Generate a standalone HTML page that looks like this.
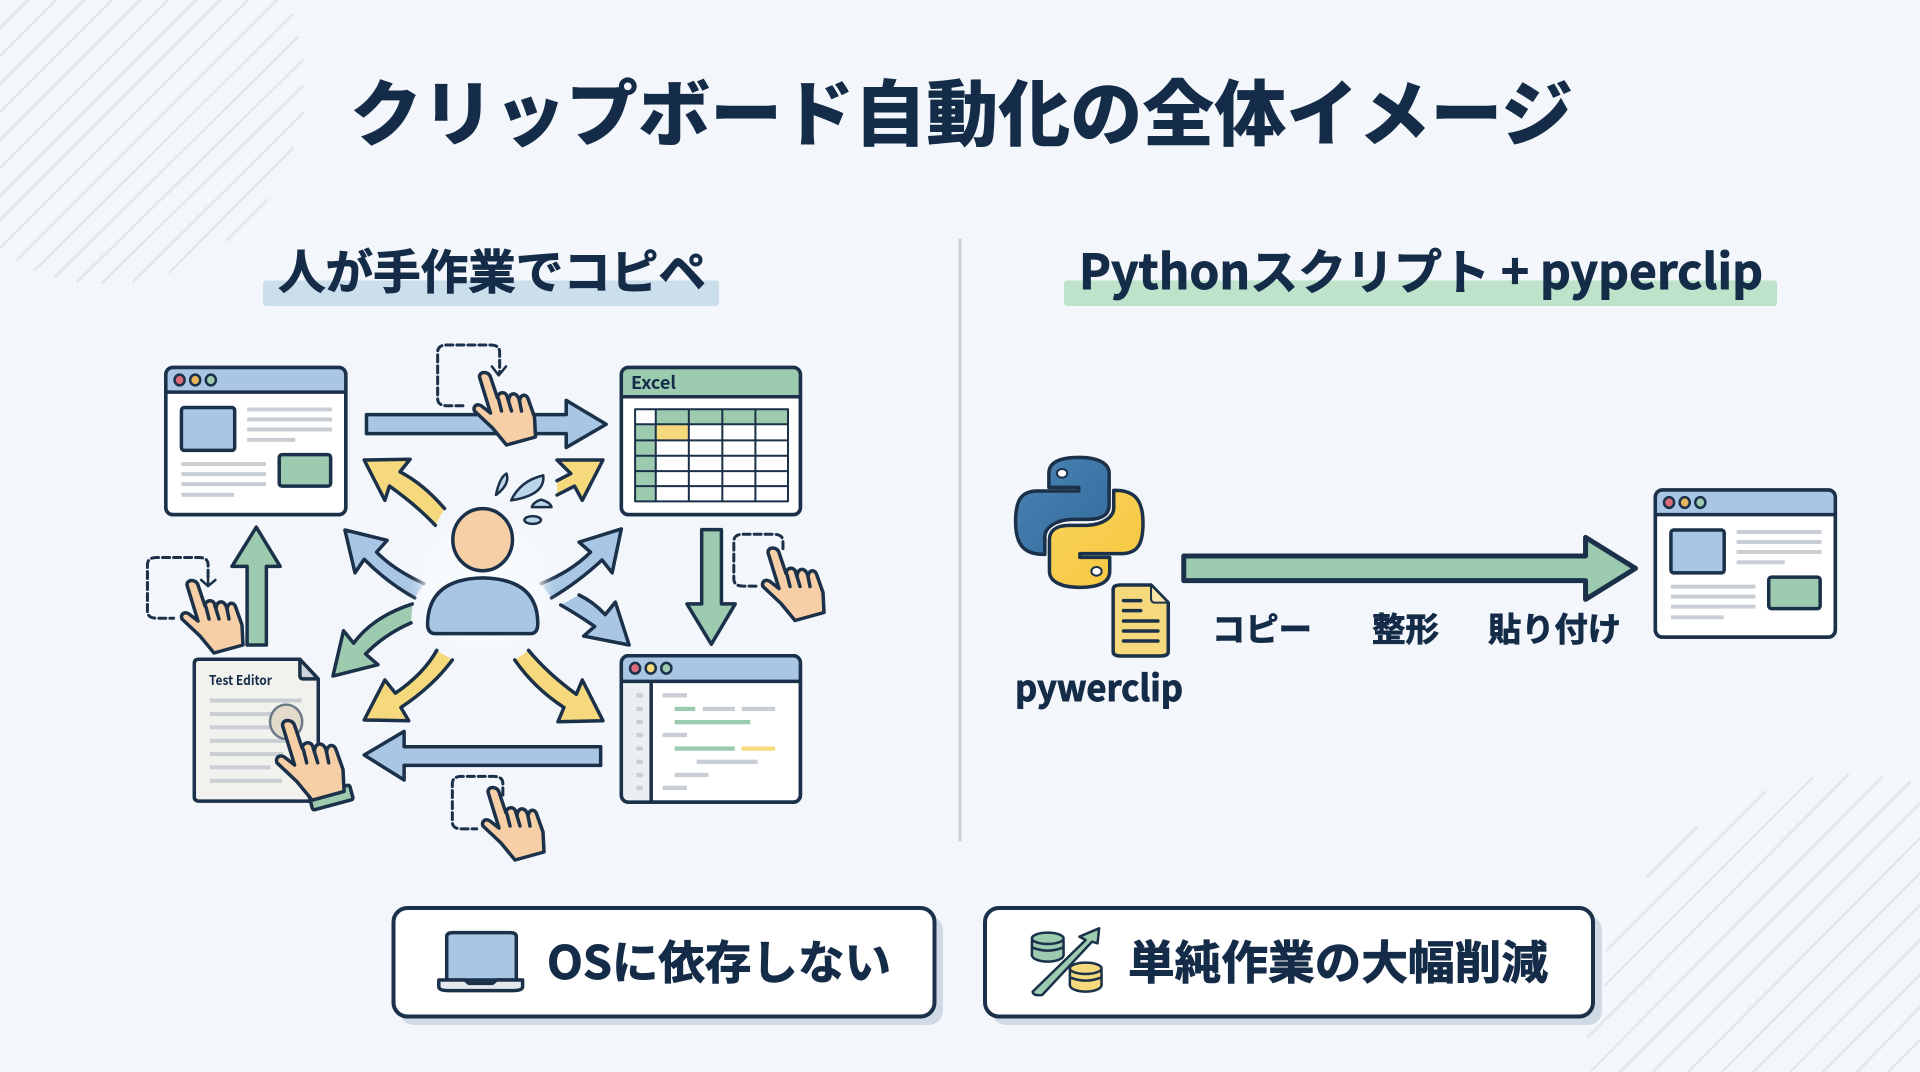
<!DOCTYPE html>
<html lang="ja"><head><meta charset="utf-8"><title>クリップボード自動化の全体イメージ</title>
<style>
html,body{margin:0;padding:0;background:#f3f7fb}
svg{display:block}
svg *{vector-effect:non-scaling-stroke}
text{font-family:"Noto Sans CJK JP","Liberation Sans",sans-serif;font-weight:700;fill:#152c48}
.h{stroke:#152c48;stroke-width:.9}
.s{stroke:#1b3049;stroke-width:3.5;stroke-linejoin:round;stroke-linecap:round}
.b{fill:#a9c7e4}.g{fill:#9dcbb0}.y{fill:#f6d97c}.k{fill:#f7cfa6}.w{fill:#fff}
.l{fill:#c9ced4}
</style></head><body>
<svg width="1920" height="1072" viewBox="0 0 1920 1072" xmlns="http://www.w3.org/2000/svg">
<defs>
<filter id="bl" x="-30%" y="-30%" width="160%" height="160%"><feGaussianBlur stdDeviation="7"/></filter>
<linearGradient id="py1" x1="0" y1="0" x2="1" y2="1"><stop offset="0" stop-color="#4a84b4"/><stop offset="1" stop-color="#336a9c"/></linearGradient>
<linearGradient id="py2" x1="1" y1="1" x2="0" y2="0"><stop offset="0" stop-color="#f9d35c"/><stop offset="1" stop-color="#f6c63e"/></linearGradient>
<g id="hand">
<path class="k s" d="M-5,4 C-5,-2 4,-2 6,4 L13,25 C13,19 22,17 23,25 L24,28 C24,19 33,18 35,28 C36,21 42,20 44,27 L50,44 L51,64 L22,72 L8,55 L-10,38 C-12,33 -7,30 -3,33 L6,40 Z"/>
<path class="s" fill="none" d="M14,26 L17,38 M24,28 L27,38 M35,28 L37,38"/>
</g>
<g id="win" transform="translate(130 320) scale(.45918 .35714)">
<rect class="w s" x="78" y="133" width="392" height="412" rx="15" ry="20"/>
<path class="b" d="M80,200 V152 Q80,135 95,135 H453 Q468,135 468,152 V200 Z"/>
<path class="s" fill="none" d="M78,202 H470"/>
<rect class="s" fill="none" x="78" y="133" width="392" height="412" rx="15" ry="20"/>
<ellipse class="s" style="stroke-width:2.5" fill="#d96b7a" cx="108" cy="168" rx="11" ry="15"/>
<ellipse class="s" style="stroke-width:2.5" fill="#e9b55c" cx="142" cy="168" rx="11" ry="15"/>
<ellipse class="g s" style="stroke-width:2.5" cx="176" cy="168" rx="11" ry="15"/>
<rect class="b s" x="112" y="245" width="116" height="120" rx="6" ry="8"/>
<rect class="g s" x="325" y="377" width="112" height="88" rx="6" ry="8"/>
<rect class="l" x="255" y="245" width="185" height="11"/><rect class="l" x="255" y="273" width="185" height="11"/>
<rect class="l" x="255" y="301" width="185" height="11"/><rect class="l" x="255" y="330" width="105" height="11"/>
<rect class="l" x="112" y="398" width="184" height="11"/><rect class="l" x="112" y="426" width="184" height="11"/>
<rect class="l" x="112" y="454" width="184" height="11"/><rect class="l" x="112" y="484" width="115" height="11"/>
</g>
</defs>

<rect width="1920" height="1072" fill="#f3f7fb"/>
<!-- hatch -->
<g stroke="#e1e7eb" stroke-width="2.5" fill="none" stroke-linecap="round">
<path d="M0,28 L28,0 M0,56 L56,0 M0,84 L84,0 M0,112 L112,0 M0,140 L140,0 M0,168 L168,0 M0,196 L196,0 M0,220 L220,0 M0,248 L248,0 M17,260 L277,0 M35,270 L292,15 M55,277 L298,37 M77,282 L303,60 M102,283 L303,86 M133,282 L303,113 M170,272 L293,148 M227,240 L267,200"/>
<path d="M1647,877 L1697,827 M1607,950 L1765,792 M1605,985 L1812,778 M1588,1037 L1848,775 M1592,1070 L1882,777 M1620,1072 L1910,782 M1653,1072 L1920,803 M1688,1072 L1920,838 M1722,1072 L1920,873 M1753,1072 L1920,905 M1790,1072 L1920,940 M1823,1072 L1920,975 M1857,1072 L1920,1007 M1888,1072 L1920,1040"/>
</g>

<!-- title -->
<text x="350" y="140" font-size="72" style="font-weight:900" textLength="1223" lengthAdjust="spacingAndGlyphs">クリップボード自動化の全体イメージ</text>

<!-- section heads -->
<rect x="263" y="280.5" width="456" height="25.5" rx="3" fill="#cbdeec"/>
<rect x="1064" y="280.5" width="713" height="25.5" rx="3" fill="#bde3ca"/>
<text class="h" x="278" y="289" font-size="47" textLength="428" lengthAdjust="spacingAndGlyphs">人が手作業でコピペ</text>
<text class="h" x="1079" y="289" font-size="48" textLength="684" lengthAdjust="spacingAndGlyphs">Pythonスクリプト + pyperclip</text>

<!-- divider -->
<rect x="958.5" y="239" width="3" height="602" fill="#c8d2d8"/>

<!-- LEFT diagram -->
<g transform="translate(130 320) scale(.45918 .35714)">
<polygon class="b s" points="515,265 950,265 950,225 1037,292 950,357 950,318 515,318"/>
<polygon class="g s" points="1245,587 1288,587 1288,795 1318,795 1266,908 1213,795 1245,795"/>
<polygon class="g s" points="255,910 297,910 297,690 327,690 275,580 222,690 255,690"/>
<polygon class="b s" points="1025,1195 1025,1247 597,1247 597,1288 510,1218 597,1152 597,1195"/>
<path class="y s" d="M685,528 Q640,460 588,425 L610,390 L510,392 L555,505 L565,465 Q625,520 665,575"/>
<path class="y s" d="M930,450 L960,430 L930,392 L1030,392 L985,505 L968,465 L930,490"/>
<path class="b s" d="M640,738 Q575,700 537,650 L560,617 L468,588 L490,708 L510,670 Q560,735 620,778"/>
<path class="b s" d="M895,738 Q960,705 1003,650 L978,622 L1070,585 L1050,708 L1028,672 Q975,735 918,778"/>
<path class="b s" d="M978,770 Q1010,790 1035,825 L1057,790 L1087,910 L988,885 L1012,858 Q975,825 938,798"/>
<path class="g s" d="M615,795 Q530,830 487,905 L465,870 L442,997 L540,965 L513,935 Q555,880 612,848"/>
<path class="y s" d="M668,925 Q640,990 578,1045 L555,1008 L510,1120 L607,1122 L590,1085 Q660,1025 702,952"/>
<path class="y s" d="M838,952 Q880,1030 945,1085 L932,1125 L1030,1122 L985,1008 L972,1048 Q910,990 868,925"/>
</g>
<ellipse cx="483" cy="585" rx="62" ry="62" fill="#f8fbfe" filter="url(#bl)"/>
<g transform="translate(130 320) scale(.45918 .35714)">
<ellipse class="k s" cx="768" cy="615" rx="65" ry="87"/>
<path class="b s" d="M665,878 Q648,878 648,850 Q650,725 768,722 Q888,725 888,850 Q888,878 872,878 Z"/>
<g class="s" style="stroke-width:2.5">
<path fill="#bcd5ea" d="M820,430 Q805,440 797,490 Q828,460 820,430Z"/>
<path fill="#bcd5ea" d="M900,435 Q850,450 830,505 Q905,490 900,435Z"/>
<path fill="#bcd5ea" d="M895,503 Q878,510 875,524 H918 Q915,510 895,503Z"/>
<ellipse fill="#bcd5ea" cx="877" cy="560" rx="18" ry="11"/>
</g>
<!-- excel -->
<rect class="w s" x="1070" y="133" width="390" height="412" rx="15" ry="20"/>
<path class="g" d="M1072,213 V152 Q1072,135 1087,135 H1443 Q1458,135 1458,152 V213 Z"/>
<path class="s" fill="none" d="M1070,215 H1460"/>
<rect class="g" x="1145" y="250" width="288" height="42"/>
<rect class="g" x="1100" y="292" width="45" height="216"/>
<rect class="y" x="1147" y="294" width="68" height="41"/>
<path class="s" style="stroke-width:2" fill="none" d="M1100,250 H1433 V508 H1100 Z M1100,292 H1433 M1100,337 H1433 M1100,380 H1433 M1100,423 H1433 M1100,465 H1433 M1145,250 V508 M1217,250 V508 M1290,250 V508 M1362,250 V508"/>
<rect class="s" fill="none" x="1070" y="133" width="390" height="412" rx="15" ry="20"/>
<!-- code -->
<rect class="w s" x="1070" y="940" width="390" height="410" rx="15" ry="20"/>
<path fill="#eceff1" d="M1072,1012 H1135 V1348 H1087 Q1072,1348 1072,1332 Z"/>
<path class="b" d="M1072,1010 V959 Q1072,942 1087,942 H1443 Q1458,942 1458,959 V1010 Z"/>
<path class="s" fill="none" d="M1070,1012 H1460 M1135,1012 V1350"/>
<rect class="s" fill="none" x="1070" y="940" width="390" height="410" rx="15" ry="20"/>
<ellipse class="s" style="stroke-width:2.5" fill="#d96b7a" cx="1100" cy="975" rx="11" ry="15"/>
<ellipse class="y s" style="stroke-width:2.5" cx="1134" cy="975" rx="11" ry="15"/>
<ellipse class="g s" style="stroke-width:2.5" cx="1168" cy="975" rx="11" ry="15"/>
<g class="l"><rect x="1103" y="1045" width="14" height="12"/><rect x="1103" y="1083" width="14" height="12"/><rect x="1103" y="1120" width="14" height="12"/><rect x="1103" y="1156" width="14" height="12"/><rect x="1103" y="1194" width="14" height="12"/><rect x="1103" y="1231" width="14" height="12"/><rect x="1103" y="1268" width="14" height="12"/><rect x="1103" y="1304" width="14" height="12"/>
<rect x="1160" y="1045" width="53" height="12"/><rect x="1247" y="1083" width="70" height="12"/><rect x="1332" y="1083" width="73" height="12"/><rect x="1160" y="1156" width="53" height="12"/><rect x="1234" y="1231" width="133" height="12"/><rect x="1186" y="1268" width="74" height="12"/><rect x="1160" y="1304" width="53" height="12"/></g>
<rect class="g" x="1186" y="1083" width="45" height="12"/><rect class="g" x="1186" y="1120" width="165" height="12"/><rect class="g" x="1186" y="1194" width="131" height="12"/><rect class="y" x="1332" y="1194" width="73" height="12"/>
<!-- editor -->
<path class="s" fill="#f1f1ee" d="M150,950 H370 L410,1005 V1347 H150 Q140,1347 140,1335 V962 Q140,950 150,950 Z"/>
<path class="s" fill="#cdd3da" d="M370,950 L410,1005 H378 Q370,1005 370,995 Z"/>
<g class="l"><rect x="174" y="1060" width="200" height="11"/><rect x="174" y="1098" width="135" height="11"/><rect x="174" y="1135" width="150" height="11"/><rect x="174" y="1173" width="165" height="11"/><rect x="174" y="1210" width="160" height="11"/><rect x="174" y="1247" width="132" height="11"/><rect x="174" y="1285" width="157" height="11"/></g>
<ellipse cx="340" cy="1125" rx="35" ry="48" fill="#e2dacb" stroke="#6d7a88" stroke-width="2.5"/>
<!-- dashed boxes -->
<g fill="none" stroke="#1b3049" stroke-width="3" stroke-dasharray="7 4" stroke-linecap="round">
<path d="M725,240 H690 Q670,240 670,220 V90 Q670,70 690,70 H785 Q805,70 805,90 V150"/>
<path d="M1422,640 V620 Q1422,600 1402,600 H1335 Q1315,600 1315,620 V725 Q1315,745 1335,745 H1370"/>
<path d="M170,720 V685 Q170,665 150,665 H58 Q38,665 38,685 V815 Q38,835 58,835 H95"/>
<path d="M812,1330 V1298 Q812,1278 792,1278 H722 Q702,1278 702,1298 V1405 Q702,1425 722,1425 H755"/>
</g>
<path class="s" fill="none" style="stroke-width:2.5" d="M788,130 L803,155 L819,130 M170,720 V745 M155,728 L170,745 L186,728"/>
</g>
<use href="#win"/>
<text x="631" y="389" font-size="17.5" textLength="45" lengthAdjust="spacingAndGlyphs">Excel</text>
<text x="209" y="685" font-size="13.5" textLength="63" lengthAdjust="spacingAndGlyphs">Test Editor</text>
<use href="#hand" transform="translate(484.5 373)"/>
<use href="#hand" transform="translate(773 548.5)"/>
<use href="#hand" transform="translate(192 581)"/>
<use href="#hand" transform="translate(493 788)"/>
<rect class="g s" x="310" y="790" width="42" height="15" rx="2" transform="rotate(-15 331 797)"/>
<use href="#hand" transform="translate(288 721) scale(1.1)"/>

<!-- RIGHT diagram -->
<use href="#win" transform="translate(1489.5 122.5)"/>
<g transform="translate(980 430) scale(.57398 .33333)">
<g>
<path fill="url(#py1)" class="s" d="M173,82 C135,82 120,100 120,130 L120,172 L172,172 L172,183 L100,183 C70,183 62,215 62,275 C62,340 75,373 110,373 L113,373 L113,320 C113,295 130,270 160,268 L190,268 C215,268 225,250 225,225 L225,130 C225,100 205,82 173,82Z"/>
<ellipse class="w s" style="stroke-width:2" cx="143" cy="130" rx="9" ry="13"/>
</g>
<g transform="matrix(-1 0 0 -1 346 554)">
<path fill="url(#py2)" class="s" d="M173,82 C135,82 120,100 120,130 L120,172 L172,172 L172,183 L100,183 C70,183 62,215 62,275 C62,340 75,373 110,373 L113,373 L113,320 C113,295 130,270 160,268 L190,268 C215,268 225,250 225,225 L225,130 C225,100 205,82 173,82Z"/>
<ellipse class="w s" style="stroke-width:2" cx="143" cy="130" rx="9" ry="13"/>
</g>
<path class="y s" d="M245,465 H298 L328,518 V665 Q328,678 315,678 H245 Q232,678 232,665 V478 Q232,465 245,465Z"/>
<path class="s" fill="#f9e6a6" style="stroke-width:2" d="M298,465 L328,518 H305 Q298,518 298,505 Z"/>
<path class="s" fill="none" d="M250,512 H280 M250,542 H280 M250,573 H310 M250,603 H310 M250,633 H310"/>
<polygon class="g s" style="stroke-width:5" points="355,378 1055,378 1055,322 1142,415 1055,508 1055,452 355,452"/>
</g>
<text class="h" x="1015" y="701" font-size="36" textLength="168" lengthAdjust="spacingAndGlyphs">pywerclip</text>
<text class="h" x="1212" y="641" font-size="33" textLength="100" lengthAdjust="spacingAndGlyphs">コピー</text>
<text class="h" x="1372" y="641" font-size="33" textLength="67" lengthAdjust="spacingAndGlyphs">整形</text>
<text class="h" x="1488" y="641" font-size="33" textLength="133" lengthAdjust="spacingAndGlyphs">貼り付け</text>

<!-- bottom boxes -->
<rect x="400" y="916" width="543" height="109" rx="14" fill="#cfdae5"/>
<rect x="992" y="916" width="610" height="109" rx="14" fill="#cfdae5"/>
<rect x="393.5" y="908" width="541" height="108.5" rx="14" fill="#fff" stroke="#1b3049" stroke-width="4"/>
<rect x="985" y="908" width="608" height="108.5" rx="14" fill="#fff" stroke="#1b3049" stroke-width="4"/>
<text class="h" x="547" y="979" font-size="46" textLength="344" lengthAdjust="spacingAndGlyphs">OSに依存しない</text>
<text class="h" x="1128" y="979" font-size="46" textLength="420" lengthAdjust="spacingAndGlyphs">単純作業の大幅削減</text>
<g transform="translate(370 890) scale(.79082 .33333)">
<path class="b s" d="M105,128 H177 Q185,128 185,140 V270 H97 V140 Q97,128 105,128Z"/>
<path class="s" fill="#e4e8ec" d="M87,270 H120 L125,280 H155 L160,270 H193 V290 Q193,302 180,302 H100 Q87,302 87,290 Z"/>
<path class="g s" style="stroke-width:2.5" d="M838,305 L905,150 L897,140 L922,115 L920,160 L913,155 L850,315 Q838,318 838,305Z"/>
<g class="s" style="stroke-width:2.5">
<ellipse class="g" cx="857" cy="195" rx="20" ry="20"/><rect class="g" x="837" y="150" width="40" height="45" stroke="none"/>
<path fill="none" d="M837,150 V195 M877,150 V195 M837,172 Q857,192 877,172"/>
<ellipse class="g" cx="857" cy="145" rx="20" ry="17"/>
<ellipse class="y" cx="905" cy="285" rx="20" ry="20"/><rect class="y" x="885" y="238" width="40" height="47" stroke="none"/>
<path fill="none" d="M885,238 V285 M925,238 V285 M885,262 Q905,282 925,262"/>
<ellipse class="y" cx="905" cy="235" rx="20" ry="17"/>
</g>
</g>
</svg>
</body></html>
